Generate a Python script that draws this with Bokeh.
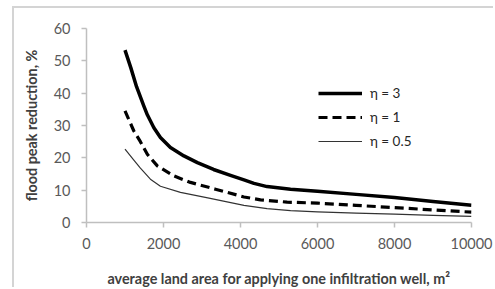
from bokeh.plotting import figure
from bokeh.models import Legend, LegendItem, Range1d, FixedTicker
from bokeh.embed import file_html
from bokeh.resources import INLINE

# data
area3 = [1000, 1150, 1300, 1490, 1580, 1750, 1920, 2180, 2530, 2880, 3300, 3740, 4090, 4350, 4690, 5300, 6000, 7000, 8000, 9000, 10000]
eta3 = [53.3, 47.9, 42.0, 36.0, 33.3, 29.3, 26.3, 23.2, 20.6, 18.5, 16.4, 14.6, 13.2, 12.1, 11.1, 10.3, 9.7, 8.7, 7.7, 6.5, 5.3]
area1 = [1000, 1230, 1400, 1580, 1840, 2270, 2700, 3350, 4090, 4520, 5210, 6000, 7000, 8000, 9000, 10000]
eta1 = [34.5, 28.3, 25.0, 21.1, 17.5, 14.4, 12.4, 10.3, 7.9, 7.0, 6.3, 6.0, 5.3, 4.6, 3.9, 3.2]
area05 = [1000, 1230, 1400, 1660, 1920, 2440, 3150, 4090, 4690, 5300, 6000, 7000, 8000, 9000, 10000]
eta05 = [22.7, 19.3, 16.8, 13.4, 11.2, 9.3, 7.6, 5.3, 4.3, 3.7, 3.3, 2.9, 2.6, 2.2, 1.9]
labels = ["η = 3", "η = 1", "η = 0.5"]
x_ticks = [0, 2000, 4000, 6000, 8000, 10000]
y_ticks = [0, 10, 20, 30, 40, 50, 60]

FONT = "Lato"

p = figure(width=481, height=281, output_backend="svg", toolbar_location=None,
           x_range=Range1d(0, 10000), y_range=Range1d(0, 60),
           min_border_left=72, min_border_right=24, min_border_top=20, min_border_bottom=67)
p.styles = {"border-left": "2px solid #d4d4d4", "border-top": "2px solid #d4d4d4",
            "margin-left": "12px", "margin-top": "6px"}
p.outline_line_color = None
p.grid.visible = False
p.background_fill_color = "white"
p.border_fill_color = "white"

r1 = p.line(area3, eta3, line_color="black", line_width=3.5, line_join="round")
r2 = p.line(area1, eta1, line_color="black", line_width=3.2, line_dash="9 5")
r3 = p.line(area05, eta05, line_color="#333333", line_width=1.2, line_join="round")

for ax in (p.xaxis[0], p.yaxis[0]):
    ax.axis_line_color = "#bfbfbf"
    ax.axis_line_width = 1.5
    ax.major_tick_line_color = "#bfbfbf"
    ax.major_tick_line_width = 1.5
    ax.major_tick_in = 0
    ax.major_tick_out = 5
    ax.minor_tick_line_color = None
    ax.major_label_text_font = FONT
    ax.major_label_text_font_size = "14.5px"
    ax.major_label_text_color = "#595959"
    ax.axis_label_text_font = FONT
    ax.axis_label_text_font_size = "14.4px"
    ax.axis_label_text_font_style = "bold"
    ax.axis_label_text_color = "#404040"

p.xaxis.ticker = FixedTicker(ticks=x_ticks)
p.yaxis.ticker = FixedTicker(ticks=y_ticks)
p.xaxis.major_label_standoff = 10
p.yaxis.major_label_standoff = 11
p.xaxis.axis_label = "average land area for applying one infiltration well, m²"
p.yaxis.axis_label = "flood peak reduction, %"
p.xaxis.axis_label_standoff = 18
p.yaxis.axis_label_standoff = 11

legend = Legend(items=[LegendItem(label=labels[0], renderers=[r1]),
                       LegendItem(label=labels[1], renderers=[r2]),
                       LegendItem(label=labels[2], renderers=[r3])],
                location=(232, 71), padding=0, margin=0, spacing=4,
                glyph_width=44, glyph_height=20, label_height=20, label_standoff=8,
                label_text_font=FONT, label_text_font_size="13.5px", label_text_color="#262626",
                border_line_color=None, background_fill_alpha=0)
p.add_layout(legend)

open("out.html", "w").write(file_html(p, INLINE))
